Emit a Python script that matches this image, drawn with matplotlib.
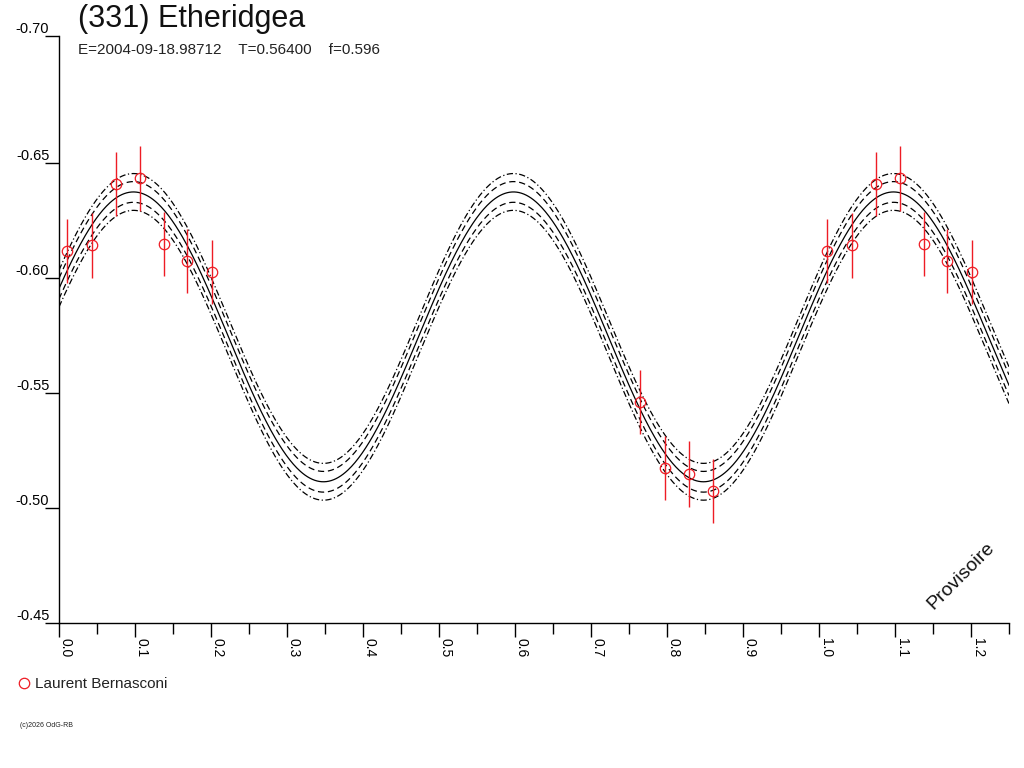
import numpy as np
import matplotlib
matplotlib.use("Agg")
import matplotlib.pyplot as plt
from matplotlib.lines import Line2D

plt.rcParams['font.family'] = ['Liberation Sans', 'DejaVu Sans']

# Observations (phase, magnitude, error) - Laurent Bernasconi
phase = [0.011, 0.043, 0.075, 0.106, 0.138, 0.169, 0.201,
         0.765, 0.797, 0.829, 0.860]
mag = [-0.6119, -0.6143, -0.6409, -0.6433, -0.6148, -0.6073, -0.6025,
       -0.5460, -0.5174, -0.5148, -0.5073]
err = [0.0139, 0.0141, 0.0139, 0.0141, 0.0139, 0.0138, 0.0139,
       0.0139, 0.0140, 0.0142, 0.0140]

# Fourier fit coefficients (order 1, 2) and envelope offsets
fit_c0 = -0.5744
fit_a = [0.0, -0.0210]
fit_b = [0.0, -0.0594]
env_inner = 0.0045
env_outer = 0.0080

yticks = [-0.45, -0.50, -0.55, -0.60, -0.65, -0.7052]
ytick_labels = ['-0.45', '-0.50', '-0.55', '-0.60', '-0.65', '-0.70']
xticks = [0.0, 0.1, 0.2, 0.3, 0.4, 0.5, 0.6, 0.7, 0.8, 0.9, 1.0, 1.1, 1.2]

red = '#ee1c24'

def fourier(x):
    y = np.full_like(x, fit_c0)
    for k, (a, b) in enumerate(zip(fit_a, fit_b), start=1):
        y += a*np.cos(2*np.pi*k*x) + b*np.sin(2*np.pi*k*x)
    return y

fig = plt.figure(figsize=(10.24, 7.68), dpi=100)
ax = fig.add_axes([59/1024, 1-623/768, (1009-59)/1024, (623-36)/768])

# model curves
x = np.linspace(0, 1.25, 800)
y = fourier(x)
lw = 0.9
ax.plot(x, y, color='black', lw=lw)
ax.plot(x, y - env_inner, color='black', lw=lw, ls=(0, (5, 3)))
ax.plot(x, y + env_inner, color='black', lw=lw, ls=(0, (5, 3)))
ax.plot(x, y - env_outer, color='black', lw=lw, ls=(0, (5, 2, 1, 2)))
ax.plot(x, y + env_outer, color='black', lw=lw, ls=(0, (5, 2, 1, 2)))

# data, repeated one period later
ph = np.array(phase)
mg = np.array(mag)
er = np.array(err)
ph2 = np.concatenate([ph, ph + 1])
mg2 = np.concatenate([mg, mg])
er2 = np.concatenate([er, er])
keep = ph2 <= 1.25
ax.errorbar(ph2[keep], mg2[keep], yerr=er2[keep], fmt='none', ecolor=red,
            elinewidth=1.0, capsize=0, zorder=3)
ax.plot(ph2[keep], mg2[keep], 'o', mfc='none', mec=red, ms=7.5, mew=0.9,
        zorder=4)

ax.set_xlim(0, 1.25)
ax.set_ylim(-0.45, -0.7052)

for s in ['top', 'right']:
    ax.spines[s].set_visible(False)
for s in ['left', 'bottom']:
    ax.spines[s].set_linewidth(1.0)

ax.set_yticks(yticks)
ax.set_yticklabels(ytick_labels)
ax.tick_params(axis='y', direction='out', length=10, width=1, pad=-3,
               labelsize=10.5)
for lbl in ax.get_yticklabels():
    lbl.set_verticalalignment('bottom')

ax.set_xticks(xticks)
ax.set_xticklabels([f'{v:.1f}' for v in xticks])
ax.set_xticks(np.array(xticks) + 0.05, minor=True)
ax.tick_params(axis='x', which='major', direction='out', length=10, width=1,
               pad=1, labelsize=10, labelrotation=270)
ax.tick_params(axis='x', which='minor', direction='out', length=8, width=1)
for lbl in ax.get_xticklabels():
    lbl.set_horizontalalignment('left')
    lbl.set_verticalalignment('top')

# texts
fig.text(78/1024, 1-27.5/768, '(331) Etheridgea', fontsize=22,
         ha='left', va='baseline', color='#111111')
fig.text(78/1024, 1-53.5/768, 'E=2004-09-18.98712    T=0.56400    f=0.596',
         fontsize=11, ha='left', va='baseline', color='#222222')
ax.text(0.9496, 0.08, 'Provisoire', transform=ax.transAxes, rotation=45,
        fontsize=14, ha='center', va='center', color='#111111')

# legend
fig.add_artist(Line2D([24/1024], [1-683/768], marker='o', mfc='none',
                      mec=red, ms=7.5, mew=0.9, transform=fig.transFigure))
fig.text(35/1024, 1-687.5/768, 'Laurent Bernasconi', fontsize=11,
         ha='left', va='baseline', color='#222222')
fig.text(20/1024, 1-727/768, '(c)2026 OdG-RB', fontsize=5,
         ha='left', va='baseline', color='#222222')

fig.savefig('out.png', dpi=100)
